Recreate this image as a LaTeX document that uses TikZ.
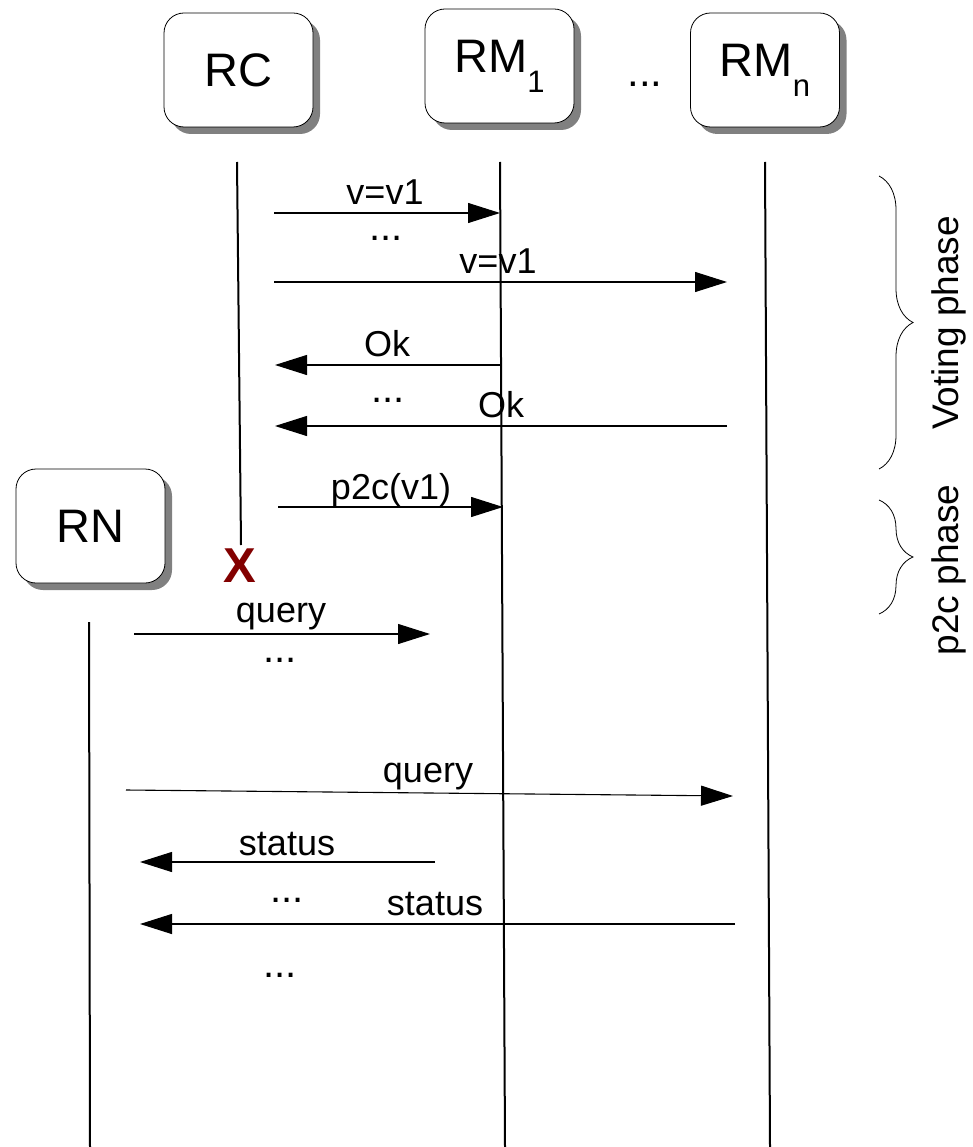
\documentclass[tikz,border=0pt]{standalone}
\usepackage{fontspec}
\setmainfont{Liberation Sans}
\usepackage{tikz}
\usetikzlibrary{arrows.meta,shadows,decorations.pathreplacing}
\definecolor{xred}{RGB}{130,0,0}
\newcommand\lowidx[1]{\raisebox{-0.42em}{\scalebox{0.66}{#1}}}
\tikzset{x=1pt, y=-1pt}

\begin{document}
\begin{tikzpicture}[
  proc/.style={draw, line width=0.8pt, fill=white, rounded corners=20pt,
    minimum width=149pt, minimum height=114pt, inner sep=0pt,
    font=\fontsize{47}{50}\selectfont,
    drop shadow={shadow xshift=7pt, shadow yshift=-7pt, fill=black!50, opacity=1}},
  life/.style={line width=2pt},
  msg/.style={line width=1.1pt, -{Triangle[length=32pt,width=20pt]}},
  lbl/.style={font=\fontsize{36}{40}\selectfont, anchor=base, inner sep=0pt},
  dotsl/.style={lbl, font=\fontsize{40}{40}\selectfont},
  phase/.style={decorate, decoration={brace, amplitude=34pt}, line width=0.8pt},
  vlbl/.style={font=\fontsize{37}{40}\selectfont, rotate=90, inner sep=0pt}
]
\useasboundingbox (0,0) rectangle (972,1147);

\node[proc] (rc) at (238.5,70) {RC};
\node[proc] (rm1) at (499.5,66) {RM\lowidx{1}};
\node[dotsl, font=\fontsize{42}{44}\selectfont] (rmdots) at (645,87) {...};
\node[proc] (rmn) at (765,70) {RM\lowidx{n}};
\node[proc] (rn) at (90.5,526) {RN};

\coordinate (rc top) at (237,162);  \coordinate (rc end) at (241,545);
\coordinate (rm1 top) at (500,162); \coordinate (rm1 end) at (505,1147);
\coordinate (rmn top) at (765,162); \coordinate (rmn end) at (770,1147);
\coordinate (rn top) at (89,622);   \coordinate (rn end) at (90,1147);
\draw[life] (rc top) -- (rc end);
\draw[life] (rm1 top) -- (rm1 end);
\draw[life] (rmn top) -- (rmn end);
\draw[life] (rn top) -- (rn end);
\node[font=\fontsize{49}{50}\selectfont\bfseries, text=xred, inner sep=0pt] (crash) at (240,566) {X};

\coordinate (vote1a) at (274,213); \coordinate (vote1b) at (500,213);
\draw[msg] (vote1a) -- (vote1b);
\node[lbl] (vote1) at (385,205) {v=v1};
\node[dotsl] (dots1) at (386,241) {...};
\coordinate (voteNa) at (274,282); \coordinate (voteNb) at (727,282);
\draw[msg] (voteNa) -- (voteNb);
\node[lbl] (voteN) at (498,273) {v=v1};

\coordinate (ok1a) at (501,365); \coordinate (ok1b) at (275,365);
\draw[msg] (ok1a) -- (ok1b);
\node[lbl] (ok1) at (387,356) {Ok};
\node[dotsl] (dots2) at (388,402) {...};
\coordinate (okNa) at (727,426); \coordinate (okNb) at (275,426);
\draw[msg] (okNa) -- (okNb);
\node[lbl] (okN) at (501,417) {Ok};

\coordinate (p2ca) at (278,507); \coordinate (p2cb) at (503,507);
\draw[msg] (p2ca) -- (p2cb);
\node[lbl] (p2c) at (391,499) {p2c(v1)};

\coordinate (qry1a) at (134,634); \coordinate (qry1b) at (430,634);
\draw[msg] (qry1a) -- (qry1b);
\node[lbl] (qry1) at (281,622) {query};
\node[dotsl] (dots3) at (280,662) {...};
\coordinate (qryNa) at (126,790); \coordinate (qryNb) at (733,796);
\draw[msg] (qryNa) -- (qryNb);
\node[lbl] (qryN) at (428,782) {query};

\coordinate (st1a) at (435,862); \coordinate (st1b) at (140,862);
\draw[msg] (st1a) -- (st1b);
\node[lbl] (st1) at (287,855) {status};
\node[dotsl] (dots4) at (287,902) {...};
\coordinate (stNa) at (735,924); \coordinate (stNb) at (140,924);
\draw[msg] (stNa) -- (stNb);
\node[lbl] (stN) at (435,915) {status};
\node[dotsl] (dots5) at (280,977) {...};

\coordinate (vote top) at (879,176); \coordinate (vote bot) at (879,469);
\draw[phase] (vote top) -- (vote bot);
\node[vlbl] (votelbl) at (949,323) {Voting phase};
\coordinate (p2c top) at (879,500); \coordinate (p2c bot) at (879,614);
\draw[phase] (p2c top) -- (p2c bot);
\node[vlbl] (p2clbl) at (949,570) {p2c phase};
\end{tikzpicture}
\end{document}
